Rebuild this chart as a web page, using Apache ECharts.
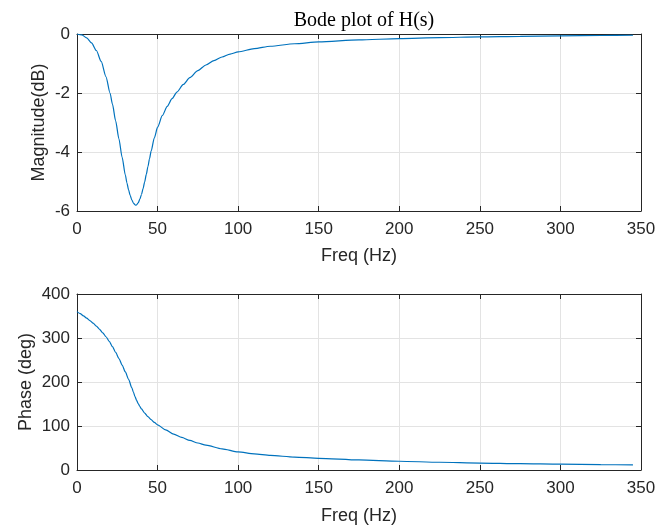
<!DOCTYPE html>
<html>
<head>
<meta charset="utf-8">
<script src="https://cdn.jsdelivr.net/npm/echarts@6/dist/echarts.min.js"></script>
<style>
  html, body { margin: 0; padding: 0; background: #fff; }
  #bode { width: 672px; height: 529px; }
</style>
</head>
<body>
<div id="bode"></div>
<script>
// Magnitude curve
var magFreq = [0, 3, 6, 9, 12, 15, 18, 20.5, 22, 24, 26, 28, 30, 31, 32, 33, 34, 35, 36, 36.5, 37, 38, 39, 40,
    41, 42, 43, 44, 45, 46, 48, 50, 53, 56, 59, 62, 66, 70, 75, 80, 85, 90, 95, 100,
    110, 120, 135, 150, 175, 200, 225, 250, 275, 300, 325, 345];
var magDb = [0, -0.03, -0.13, -0.3, -0.56, -0.93, -1.45, -2.0, -2.38, -2.95, -3.55, -4.18, -4.78, -5.05, -5.28, -5.47, -5.62, -5.73, -5.79, -5.8, -5.79, -5.72, -5.6, -5.44,
    -5.24, -5.01, -4.76, -4.5, -4.23, -3.97, -3.52, -3.16, -2.76, -2.45, -2.19, -1.97, -1.71, -1.48, -1.24, -1.05, -0.9, -0.78, -0.68, -0.605,
    -0.495, -0.415, -0.33, -0.27, -0.2, -0.155, -0.122, -0.097, -0.078, -0.062, -0.05, -0.042];

// Phase curve
var phaseFreq = [0, 2, 4, 6, 8, 10, 12, 14, 16, 18, 20, 22, 24, 26, 28, 30, 32, 34, 35, 36, 37, 38, 39, 40,
    42, 44, 46, 48, 50, 55, 60, 65, 70, 75, 80, 90, 100, 110, 120, 135, 150, 175, 200, 225, 250, 275, 300, 325, 345];
var phaseDeg = [360, 355.4, 350.4, 345.2, 339.6, 333.6, 327, 319.8, 311.8, 302.8, 292.5, 280.4, 267.3, 253.3, 238.5, 222.9, 206.1, 187.1, 176.8, 166.9, 158.1, 150.7, 144.4, 138.8,
    129.3, 121.3, 114.3, 108.1, 102.6, 91.1, 81.6, 74, 67.2, 61.4, 56.4, 48, 41, 36.8, 33.2, 29.4, 26.6, 22.8, 19.9, 17.6, 15.8, 14.4, 13.2, 12.2, 11.5];

var titleText = 'Bode plot of H(s)';
var xName = 'Freq (Hz)';
var magName = 'Magnitude(dB)';
var phaseName = 'Phase (deg)';

function pairs(xs, ys) {
    var out = [];
    for (var i = 0; i < xs.length; i++) {
        out.push([xs[i], ys[i]]);
    }
    return out;
}

var axisColor = '#262626';
var gridColor = '#e3e3e3';
var labelFont = { color: axisColor, fontSize: 17, fontFamily: 'Liberation Sans, Arial, sans-serif' };
var nameFont = { color: axisColor, fontSize: 18, fontFamily: 'Liberation Sans, Arial, sans-serif' };

function mainX(gi, gap) {
    return {
        type: 'value', gridIndex: gi, min: 0, max: 350, interval: 50,
        name: xName, nameLocation: 'middle', nameGap: gap, nameTextStyle: nameFont,
        nameMoveOverlap: false,
        axisLine: { onZero: false, lineStyle: { color: axisColor, width: 1 } },
        axisTick: { inside: true, length: 5, lineStyle: { color: axisColor } },
        axisLabel: Object.assign({ margin: 10 }, labelFont),
        splitLine: { show: true, lineStyle: { color: gridColor } }
    };
}

// top edge of the box, ticks only
function boxX(gi) {
    return {
        type: 'value', gridIndex: gi, min: 0, max: 350, interval: 50, position: 'top',
        axisLine: { onZero: false, lineStyle: { color: axisColor, width: 1 } },
        axisTick: { inside: true, length: 5, lineStyle: { color: axisColor } },
        axisLabel: { show: false },
        splitLine: { show: false }
    };
}

function mainY(gi, min, max, step, name, gap) {
    return {
        type: 'value', gridIndex: gi, min: min, max: max, interval: step,
        name: name, nameLocation: 'middle', nameGap: gap, nameTextStyle: nameFont,
        nameMoveOverlap: false,
        axisLine: { show: true, onZero: false, lineStyle: { color: axisColor, width: 1 } },
        axisTick: { show: true, inside: true, length: 5, lineStyle: { color: axisColor } },
        axisLabel: Object.assign({ margin: 7 }, labelFont),
        splitLine: { show: true, lineStyle: { color: gridColor } }
    };
}

// right edge of the box
function boxY(gi, min, max, step) {
    return {
        type: 'value', gridIndex: gi, min: min, max: max, interval: step, position: 'right',
        axisLine: { show: true, onZero: false, lineStyle: { color: axisColor, width: 1 } },
        axisTick: { show: true, inside: true, length: 5, lineStyle: { color: axisColor } },
        axisLabel: { show: false },
        splitLine: { show: false }
    };
}

var chartDom = document.getElementById('bode');
var myChart = echarts.init(chartDom);
var option;

option = {
    backgroundColor: '#fff',
    animation: false,
    title: {
        text: titleText,
        left: 359,
        top: 6,
        textAlign: 'center',
        textStyle: { fontFamily: 'Liberation Serif, serif', fontWeight: 'normal', fontSize: 20, color: '#000' }
    },
    grid: [
        { left: 77, right: 31, top: 34, height: 177 },
        { left: 77, right: 31, top: 294, height: 176 }
    ],
    xAxis: [mainX(0, 36), boxX(0), mainX(1, 37), boxX(1)],
    yAxis: [
        mainY(0, -6, 0, 2, magName, 28.5),
        boxY(0, -6, 0, 2),
        mainY(1, 0, 400, 100, phaseName, 42),
        boxY(1, 0, 400, 100)
    ],
    series: [{
            name: 'Magnitude',
            type: 'line',
            xAxisIndex: 0,
            yAxisIndex: 0,
            showSymbol: false,
            smooth: 0.25,
            smoothMonotone: 'x',
            lineStyle: { color: '#0072BD', width: 1.2 },
            data: pairs(magFreq, magDb)
        },
        {
            name: 'Phase',
            type: 'line',
            xAxisIndex: 2,
            yAxisIndex: 2,
            showSymbol: false,
            smooth: 0.25,
            smoothMonotone: 'x',
            lineStyle: { color: '#0072BD', width: 1.2 },
            data: pairs(phaseFreq, phaseDeg)
        }
    ]
};

option && myChart.setOption(option);
</script>
</body>
</html>
